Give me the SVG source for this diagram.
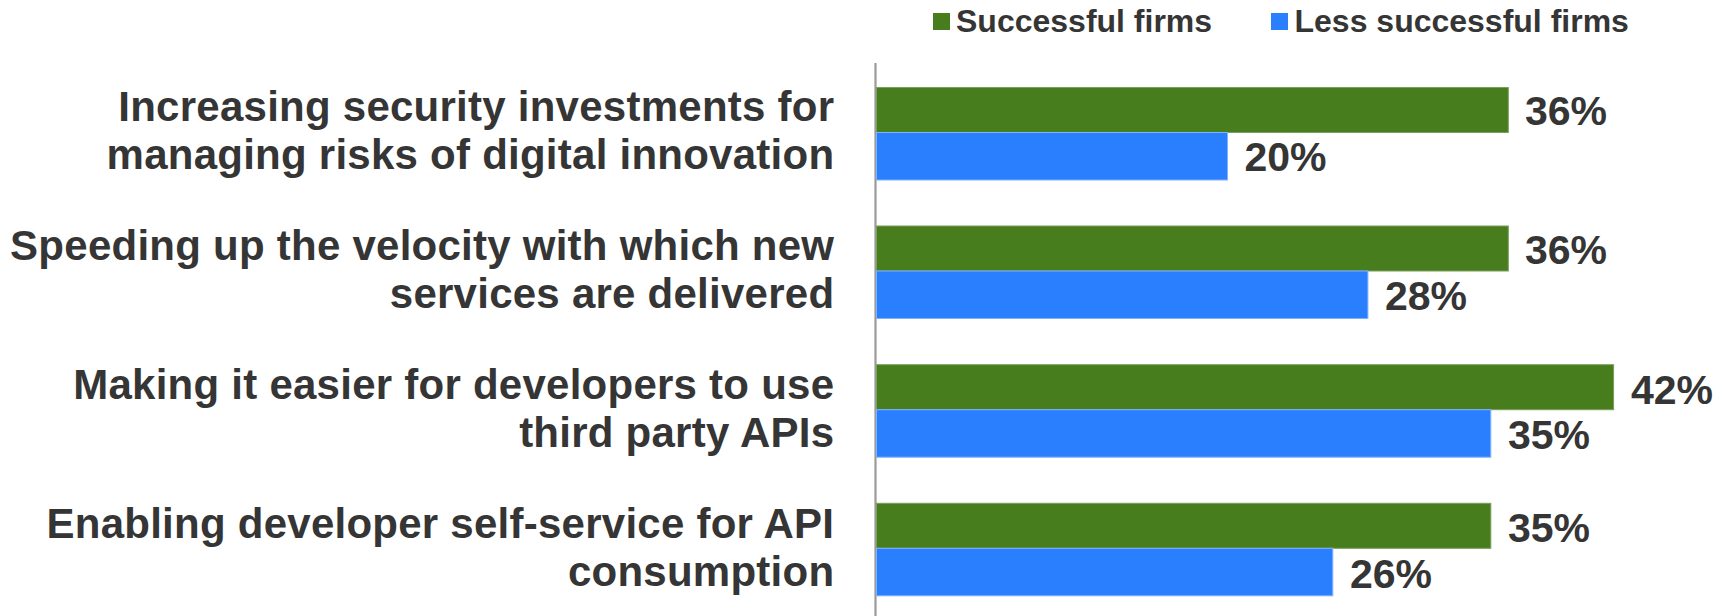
<svg xmlns="http://www.w3.org/2000/svg" width="1730" height="616" viewBox="0 0 1730 616">
<style>
.t{font-family:"Liberation Sans",Arial,sans-serif;font-weight:bold;fill:#353535}
.cat{font-size:42px;text-anchor:end;letter-spacing:0.25px}
.val{font-size:41px}
.leg{font-size:32px}
.g{fill:#487d1d;stroke:#7a9e5c;stroke-width:1}
.b{fill:#2a7fff;stroke:#7fb2ff;stroke-width:1}
</style>
<rect width="1730" height="616" fill="#ffffff"/>
<g id="legend">
<rect x="933" y="13" width="17" height="17" fill="#487d1d"/>
<text class="t leg" x="956" y="32.3">Successful firms</text>
<rect x="1271" y="13" width="17" height="17" fill="#2a7fff"/>
<text class="t leg" x="1294.5" y="32.3">Less successful firms</text>
</g>
<g id="axis">
<line x1="875.5" y1="63" x2="875.5" y2="616" stroke="#9a9a9a" stroke-width="2.2"/>
</g>
<g id="row1">
<text class="t cat" x="834.3" y="120.5">Increasing security investments for</text>
<text class="t cat" x="834.3" y="168.5">managing risks of digital innovation</text>
<rect class="g" x="876.5" y="87.5" width="631.8" height="45"/>
<rect class="b" x="876.5" y="132.5" width="351" height="47.5"/>
<text class="t val" x="1525" y="125">36%</text>
<text class="t val" x="1244.5" y="171">20%</text>
</g>
<g id="row2">
<text class="t cat" x="834.3" y="259.5">Speeding up the velocity with which new</text>
<text class="t cat" x="834.3" y="307.5">services are delivered</text>
<rect class="g" x="876.5" y="226" width="631.8" height="45"/>
<rect class="b" x="876.5" y="271" width="491.4" height="47.5"/>
<text class="t val" x="1525" y="263.5">36%</text>
<text class="t val" x="1385" y="309.5">28%</text>
</g>
<g id="row3">
<text class="t cat" x="834.3" y="398.5">Making it easier for developers to use</text>
<text class="t cat" x="834.3" y="446.5">third party APIs</text>
<rect class="g" x="876.5" y="364.7" width="737.1" height="45"/>
<rect class="b" x="876.5" y="409.7" width="614.3" height="47.5"/>
<text class="t val" x="1631" y="403.5">42%</text>
<text class="t val" x="1508" y="449.3">35%</text>
</g>
<g id="row4">
<text class="t cat" x="834.3" y="537.5">Enabling developer self-service for API</text>
<text class="t cat" x="834.3" y="585.5">consumption</text>
<rect class="g" x="876.5" y="503.3" width="614.3" height="45"/>
<rect class="b" x="876.5" y="548.3" width="456.3" height="47.5"/>
<text class="t val" x="1508" y="542">35%</text>
<text class="t val" x="1350" y="588">26%</text>
</g>
</svg>
